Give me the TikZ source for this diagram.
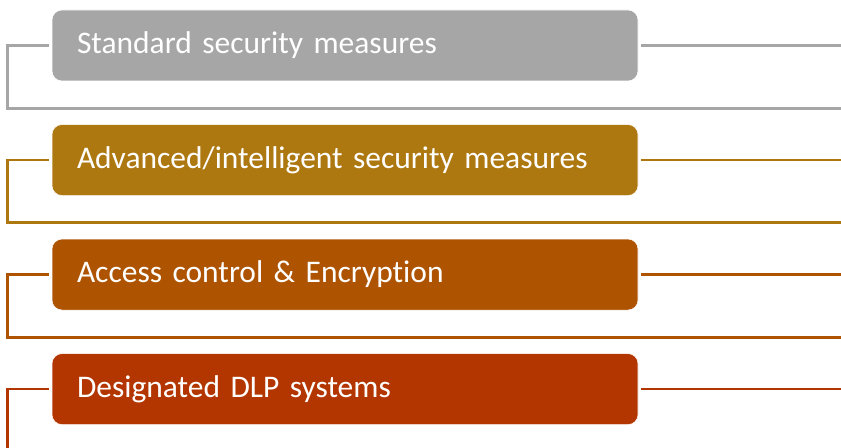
\documentclass[tikz,border=0pt]{standalone}
\usepackage{fontspec}
\setmainfont{Carlito}[Ligatures={NoCommon}]
\usetikzlibrary{calc,positioning}

\definecolor{grayS}{HTML}{A6A6A6}
\definecolor{goldS}{HTML}{AE7811}
\definecolor{brownS}{HTML}{AE5300}
\definecolor{redS}{HTML}{B33600}

\begin{document}
\begin{tikzpicture}[%
    x=0.75pt, y=-0.75pt,
    node font=\fontsize{23.6pt}{28pt}\selectfont,
    stage/.style={rectangle, rounded corners=7.5pt, draw=white, thin,
      minimum width=439.5pt, minimum height=53.25pt,
      inner xsep=18.75pt, text width=402pt, align=left, text=white},
    link/.style={line width=2pt}]

  \useasboundingbox (0,0) rectangle (841,448);

  % the four stages
  \node (S1) at (345,45.5) [stage, fill=grayS] {Standard security measures};
  \node (S2) [below=32.25pt of S1, stage, fill=goldS]
        {Advanced/intelligent security measures};
  \node (S3) [below=32.25pt of S2, stage, fill=brownS]
        {Access control \& Encryption};
  \node (S4) [below=32.25pt of S3, stage, fill=redS]
        {Designated DLP systems};

  % --- brackets ---------------------
  \draw[link, grayS] ($(S1.west)+(-3,0)$) -- ($(S1.west)+(-44,0)$)
      -- ($(S1.south west)+(-44,27)$) -- ($(S1.south west)+(789,27)$);
  \draw[link, grayS] ($(S1.east)+(3,0)$) -- ($(S1.east)+(203,0)$);

  \draw[link, goldS] ($(S2.west)+(-3,0)$) -- ($(S2.west)+(-44,0)$)
      -- ($(S2.south west)+(-44,27)$) -- ($(S2.south west)+(789,27)$);
  \draw[link, goldS] ($(S2.east)+(3,0)$) -- ($(S2.east)+(203,0)$);

  \draw[link, brownS] ($(S3.west)+(-3,0)$) -- ($(S3.west)+(-44,0)$)
      -- ($(S3.south west)+(-44,27)$) -- ($(S3.south west)+(789,27)$);
  \draw[link, brownS] ($(S3.east)+(3,0)$) -- ($(S3.east)+(203,0)$);

  \draw[link, redS] ($(S4.west)+(-3,0)$) -- ($(S4.west)+(-44,0)$)
      -- ($(S4.south west)+(-44,27)$);
  \draw[link, redS] ($(S4.east)+(3,0)$) -- ($(S4.east)+(203,0)$);
\end{tikzpicture}
\end{document}
